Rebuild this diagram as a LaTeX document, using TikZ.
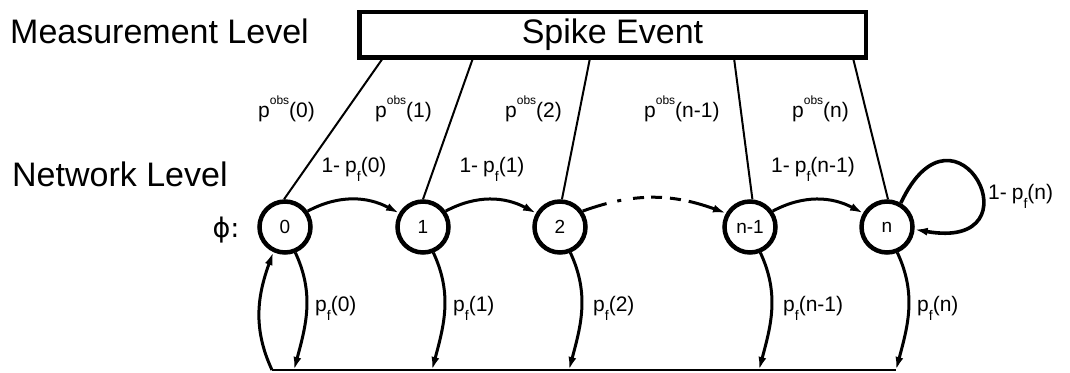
\documentclass[tikz,border=0pt]{standalone}
\usepackage{fontspec}
\setmainfont{Liberation Sans}
\newfontfamily\dejavu{DejaVu Sans}
\usetikzlibrary{arrows.meta}
\tikzset{
  st/.style={circle,draw,line width=4.5pt,minimum size=51pt,inner sep=0pt,font=\fontsize{19}{19}\selectfont},
  obsline/.style={line width=2pt},
  trans/.style={line width=3pt,-{Latex[length=13pt,width=8pt]}},
  lbl/.style={font=\fontsize{21}{21}\selectfont,inner sep=0pt},
  big/.style={font=\fontsize{34}{34}\selectfont,inner sep=0pt},
}
\newcommand{\pobs}[1]{p\raisebox{0.62em}{\fontsize{12}{12}\selectfont obs}(#1)}
\newcommand{\pf}[1]{p\raisebox{-0.4em}{\fontsize{14}{14}\selectfont f}(#1)}
\newcommand{\om}{1-\hspace{5pt}}
\begin{document}
\begin{tikzpicture}[x=1pt,y=1pt]
\useasboundingbox (0,0) rectangle (1070,372);
% texts
\node[draw,line width=4.5pt,minimum width=506.5pt,minimum height=45.5pt,big] (box) at (612.5,337) {Spike Event};
\node[big,anchor=base west] (ml) at (10,328) {Measurement Level};
\node[big,anchor=base west] (nl) at (12,185) {Network Level};
\node[font=\dejavu\fontsize{27}{27}\selectfont,inner sep=0pt] (phi) at (226,142) {ϕ:};
% states
\node[st] (n0) at (285,145) {0};
\node[st] (n1) at (423,145) {1};
\node[st] (n2) at (560,145) {2};
\node[st] (n3) at (750,145) {n-1};
\node[st] (n4) at (887,145) {n};
% observation lines
\coordinate (o0) at (383,314);
\coordinate (o1) at (473,314);
\coordinate (o2) at (590,314);
\coordinate (o3) at (734,314);
\coordinate (o4) at (853,314);
\draw[obsline] (o0) -- (n0.92);
\draw[obsline] (o1) -- (n1.90);
\draw[obsline] (o2) -- (n2.86);
\draw[obsline] (o3) -- (n3.85);
\draw[obsline] (o4) -- (n4.88);
% forward transitions
\draw[trans] (n0.35) to[out=28,in=152] (n1.150);
\draw[trans] (n1.35) to[out=28,in=152] (n2.150);
\draw[trans,dash pattern=on 25pt off 11pt on 4pt off 12pt on 11pt off 7pt on 11pt off 8pt on 11pt off 8pt on 80pt] (n2.35) to[out=20,in=160] (n3.150);
\draw[trans] (n3.35) to[out=28,in=152] (n4.150);
% bottom
\coordinate (r0) at (272,2);
\coordinate (b0) at (294,2);
\coordinate (b1) at (432,2);
\coordinate (b2) at (569,2);
\coordinate (b3) at (759,2);
\coordinate (b4) at (896,2);
\draw[line width=2pt] (r0) -- (b4);
\draw[trans] (n0.-68) to[out=-65,in=75] (b0);
\draw[trans] (n1.-68) to[out=-65,in=75] (b1);
\draw[trans] (n2.-68) to[out=-65,in=75] (b2);
\draw[trans] (n3.-68) to[out=-65,in=75] (b3);
\draw[trans] (n4.-68) to[out=-65,in=75] (b4);
\draw[trans] (r0) to[out=115,in=-110] (n0.-115);
% loop
\draw[trans,line width=3.6pt] (n4.60) to[out=65,in=-10,distance=130pt] (n4.-5);
% labels
\node[lbl,anchor=base west] (lo0) at (258,254) {\pobs{0}};
\node[lbl,anchor=base west] (lo1) at (375,254) {\pobs{1}};
\node[lbl,anchor=base west] (lo2) at (505,254) {\pobs{2}};
\node[lbl,anchor=base west] (lo3) at (644,254) {\pobs{n-1}};
\node[lbl,anchor=base west] (lo4) at (792,254) {\pobs{n}};
\node[lbl,anchor=base] (lf0) at (354,199) {\om\pf{0}};
\node[lbl,anchor=base] (lf1) at (492,199) {\om\pf{1}};
\node[lbl,anchor=base] (lf3) at (813,199) {\om\pf{n-1}};
\node[lbl,anchor=base west] (lf4) at (988,172) {\om\pf{n}};
\node[lbl,anchor=base west] (ld0) at (315,60) {\pf{0}};
\node[lbl,anchor=base west] (ld1) at (453,60) {\pf{1}};
\node[lbl,anchor=base west] (ld2) at (593,60) {\pf{2}};
\node[lbl,anchor=base west] (ld3) at (783,60) {\pf{n-1}};
\node[lbl,anchor=base west] (ld4) at (917,60) {\pf{n}};
\end{tikzpicture}
\end{document}
